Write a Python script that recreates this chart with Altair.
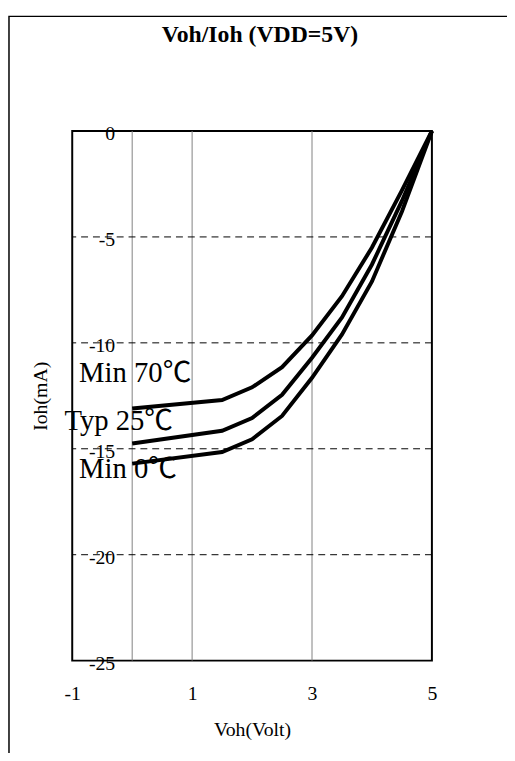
import altair as alt
import pandas as pd

# ---- data ----
volts = [0, 1.5, 2, 2.5, 3, 3.5, 4, 4.5, 5]
min70 = [-13.1, -12.7, -12.1, -11.15, -9.65, -7.8, -5.5, -2.8, 0]
typ25 = [-14.75, -14.15, -13.55, -12.45, -10.7, -8.8, -6.3, -3.3, 0]
min0 = [-15.7, -15.15, -14.55, -13.45, -11.65, -9.6, -7.1, -3.8, 0]
series_names = ["Min 70℃", "Typ 25℃", "Min 0℃"]
label_x = [-0.885, -1.13, -0.885]
label_y = [-11.85, -14.13, -16.37]
x_ticks = [-1, 1, 3, 5]
y_ticks = [0, -5, -10, -15, -20, -25]
x_grid = [0, 1, 3]
y_grid = [-5, -10, -15, -20]

rows = []
for name, vals in zip(series_names, [min70, typ25, min0]):
    for v, i in zip(volts, vals):
        rows.append({"series": name, "Voh": v, "Ioh": i})
df = pd.DataFrame(rows)
labels_df = pd.DataFrame({"series": series_names, "Voh": label_x, "Ioh": label_y})
xgrid_df = pd.DataFrame({"Voh": x_grid})
ygrid_df = pd.DataFrame({"Ioh": y_grid})

FONT = "Liberation Serif"
xs = alt.Scale(domain=[-1, 5], nice=False, zero=False)
ys = alt.Scale(domain=[-25, 0], nice=False, zero=False)

x_axis = alt.Axis(
    values=x_ticks, title="Voh(Volt)", grid=False, domain=False, ticks=False,
    labelFlush=False, labelOverlap=False, labelPadding=23,
    labelExpr="datum.value < 0 ? '-' + abs(datum.value) : '' + datum.value",
    labelFont=FONT, labelFontSize=20, labelColor="black",
    titleFont=FONT, titleFontSize=20, titleFontWeight="normal", titleColor="black",
    titleY=70, titleBaseline="middle",
)
y_axis = alt.Axis(
    values=y_ticks, title="Ioh(mA)", grid=False, domain=False, ticks=False, tickSize=0,
    labelPadding=-43, labelOffset=3, labelBaseline="middle", labelAlign="right",
    labelOverlap=False, labelFlush=False,
    labelExpr="datum.value < 0 ? '-' + abs(datum.value) : '' + datum.value",
    labelFont=FONT, labelFontSize=20, labelColor="black",
    titleFont=FONT, titleFontSize=20, titleFontWeight="normal", titleColor="black",
    titleX=-32, titleY=268, titleAlign="center", titleBaseline="middle", titleAngle=-90,
)

X = alt.X("Voh:Q", scale=xs, axis=x_axis)
Y = alt.Y("Ioh:Q", scale=ys, axis=y_axis)

frame = alt.Chart(pd.DataFrame({"a": [0]})).mark_rect(
    fillOpacity=0, stroke="black", strokeWidth=1.5
).encode(x=alt.value(-64), x2=alt.value(520), y=alt.value(-116), y2=alt.value(700))

vgrid = alt.Chart(xgrid_df).mark_rule(color="#808080", strokeWidth=1).encode(x=X)
hgrid = alt.Chart(ygrid_df).mark_rule(color="black", strokeWidth=1, strokeDash=[7, 5]).encode(y=Y)

lines = alt.Chart(df).mark_line(color="black", strokeWidth=4).encode(
    x=X, y=Y, detail="series:N", order="Voh:Q"
)

texts = alt.Chart(labels_df).mark_text(
    font=FONT + ", Noto Sans CJK TC", fontSize=29, align="left", baseline="alphabetic", color="black"
).encode(x=X, y=Y, text="series:N")

chart = alt.layer(frame, vgrid, hgrid, lines, texts).properties(
    width=364,
    height=536,
    autosize=alt.AutoSizeParams(type="none"),
    padding={"left": 65, "top": 120, "right": 76, "bottom": 89},
    title=alt.TitleParams(
        "Voh/Ioh (VDD=5V)", font=FONT, fontSize=24, fontWeight="bold", color="black",
        frame="group", anchor="middle", offset=-51, dx=8, baseline="alphabetic",
    ),
).configure(background="white").configure_view(stroke="black", strokeWidth=2)

chart.save("out.html", embed_options={"renderer": "svg", "actions": False})
